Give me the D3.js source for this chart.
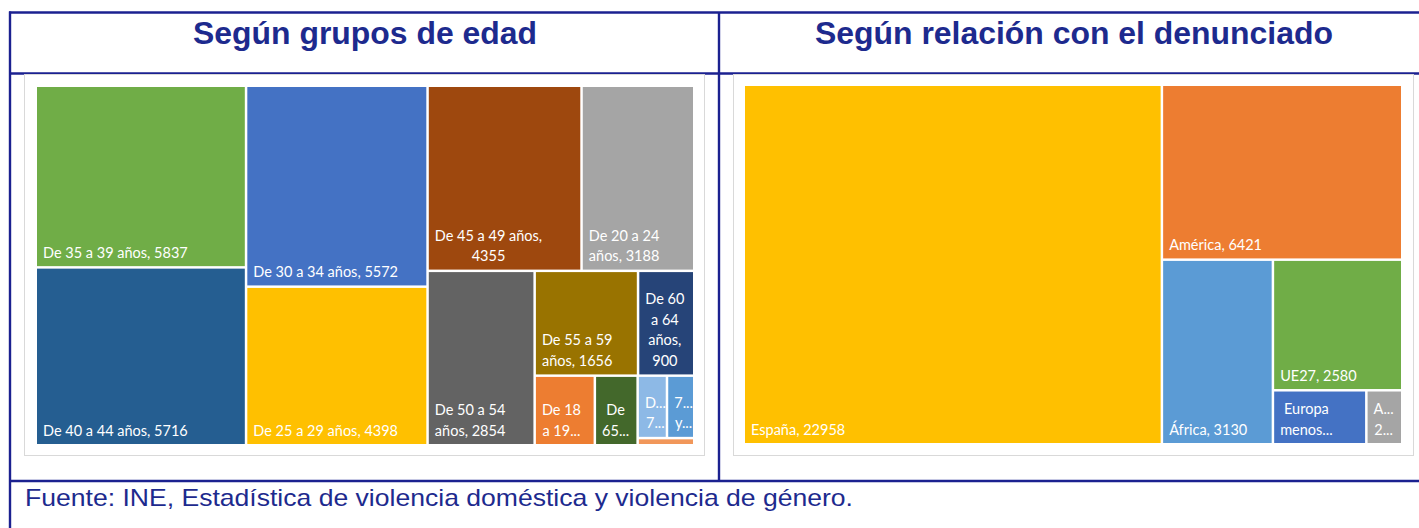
<!DOCTYPE html>
<html><head><meta charset="utf-8">
<script src="https://cdn.jsdelivr.net/npm/d3@7"></script>
<style>html,body{margin:0;padding:0;background:#fff;} svg{display:block;}</style>
</head><body>
<svg id="c" width="1419" height="528"></svg>
<script>
// ---------- data ----------
const tituloEdad = "Según grupos de edad";
const tituloRelacion = "Según relación con el denunciado";
const fuente = "Fuente: INE, Estadística de violencia doméstica y violencia de género.";

const edadCategorias = ["De 35 a 39 años", "De 40 a 44 años", "De 30 a 34 años", "De 25 a 29 años",
  "De 45 a 49 años", "De 20 a 24 años", "De 50 a 54 años", "De 55 a 59 años", "De 60 a 64 años",
  "De 18 a 19 años", "De 65 a 69 años", "De 70 a 74 años", "75 y más años", "Menores de 18 años"];
const edadValores = [5837, 5716, 5572, 4398, 4355, 3188, 2854, 1656, 900, 640, 455, 280, 260, 62];
const edadColores = ["#70AD47", "#255E91", "#4472C4", "#FFC000", "#9E480E", "#A5A5A5", "#636363",
  "#997300", "#264478", "#ED7D31", "#43682B", "#8DB9E6", "#5B9BD5", "#F1975A"];

const relacionCategorias = ["España", "América", "África", "UE27", "Europa menos UE27", "Asia"];
const relacionValores = [22958, 6421, 3130, 2580, 770, 296];
const relacionColores = ["#FFC000", "#ED7D31", "#5B9BD5", "#70AD47", "#4472C4", "#A5A5A5"];

// ---------- setup ----------
const svg = d3.select("#c");
const navy = "#1b2190";
const textNavy = "#1d2a8e";
const labelFont = "Lato, 'Open Sans', sans-serif";
const labelSize = 14.5;
const lineH = 20.5;

svg.append("rect").attr("width", 1419).attr("height", 528).attr("fill", "#fff");

// table lines
const lines = [
  [9, 12.5, 1419, 12.5],
  [9, 73.5, 1419, 73.5],
  [9, 481, 1419, 481],
  [10, 11.5, 10, 528],
  [719, 12, 719, 481]
];
svg.append("g").selectAll("line").data(lines).join("line")
  .attr("x1", d => d[0]).attr("y1", d => d[1]).attr("x2", d => d[2]).attr("y2", d => d[3])
  .attr("stroke", navy).attr("stroke-width", 2.4);

// titles
const titleFont = "'Liberation Sans', Arial, sans-serif";
[[tituloEdad, 365, 344], [tituloRelacion, 1074, 518]].forEach(([t, cx, len]) => {
  svg.append("text").attr("x", cx).attr("y", 44).attr("text-anchor", "middle")
    .attr("font-family", titleFont).attr("font-weight", "bold").attr("font-size", 31)
    .attr("fill", textNavy).attr("textLength", len).attr("lengthAdjust", "spacingAndGlyphs")
    .text(t);
});

svg.append("text").attr("x", 25).attr("y", 506)
  .attr("font-family", titleFont).attr("font-size", 24)
  .attr("fill", textNavy).attr("textLength", 828).attr("lengthAdjust", "spacingAndGlyphs")
  .text(fuente);

// chart panels
[[24, 74], [733, 74]].forEach(([x, y]) => {
  svg.append("rect").attr("x", x + 0.5).attr("y", y + 0.5).attr("width", 680).attr("height", 381)
    .attr("fill", "#fff").attr("stroke", "#d9d9d9").attr("stroke-width", 1);
});

// text measuring
const measurer = svg.append("text").attr("font-family", labelFont).attr("font-size", labelSize)
  .attr("visibility", "hidden");
function measure(s) { measurer.text(s); return measurer.node().getComputedTextLength(); }

function truncChars(word, avail) {
  for (let n = word.length - 1; n >= 1; n--) {
    const s = word.slice(0, n) + "...";
    if (measure(s) <= avail) return s;
  }
  return word[0] + "...";
}

function wrapLabel(text, avail, maxLines) {
  const words = text.split(/\s+/);
  const out = [];
  let i = 0;
  if (maxLines < 1) return out;
  while (i < words.length && out.length < maxLines) {
    const isLast = out.length === maxLines - 1;
    let line = words[i];
    if (measure(line) > avail) { out.push(truncChars(line, avail)); i++; continue; }
    let j = i + 1;
    while (j < words.length && measure(line + " " + words[j]) <= avail) { line += " " + words[j]; j++; }
    if (isLast && j < words.length) {
      let k = j, cand = null;
      while (k > i) {
        cand = words.slice(i, k).join(" ") + "...";
        if (measure(cand) <= avail) break;
        k--;
      }
      out.push(k > i ? cand : truncChars(words[i], avail));
      i = words.length;
      break;
    }
    out.push(line);
    i = j;
  }
  return out;
}

function treemapChart(cats, vals, cols, x, y, w, h) {
  const color = d3.scaleOrdinal(cats, cols);
  const root = d3.hierarchy({ children: cats.map((c, i) => ({ name: c, value: vals[i] })) })
    .sum(d => d.value || 0)
    .sort((a, b) => b.value - a.value);
  d3.treemap().size([w, h]).tile(d3.treemapSquarify.ratio(1.18)).paddingInner(2.5)(root);

  const g = svg.append("g").attr("transform", `translate(${x},${y})`);
  const cell = g.selectAll("g").data(root.leaves()).join("g");
  cell.append("rect")
    .attr("x", d => d.x0).attr("y", d => d.y0)
    .attr("width", d => d.x1 - d.x0).attr("height", d => d.y1 - d.y0)
    .attr("fill", d => color(d.data.name));

  cell.each(function (d) {
    const cw = d.x1 - d.x0, ch = d.y1 - d.y0;
    const padX = 6;
    const avail = cw - 2 * padX;
    const maxLines = Math.floor((ch - 8) / lineH);
    const lbl = wrapLabel(`${d.data.name}, ${d.data.value}`, avail, maxLines);
    if (!lbl.length) return;
    const bw = d3.max(lbl, s => measure(s));
    const cx = d.x0 + padX + bw / 2;
    const lastY = d.y1 - 14;
    d3.select(this).selectAll("text").data(lbl).join("text")
      .attr("x", cx)
      .attr("y", (s, k) => lastY - (lbl.length - 1 - k) * lineH)
      .attr("text-anchor", "middle").attr("dominant-baseline", "central")
      .attr("font-family", labelFont).attr("font-size", labelSize)
      .attr("fill", "#fff")
      .text(s => s);
  });
}

treemapChart(edadCategorias, edadValores, edadColores, 37, 87, 656, 357);
treemapChart(relacionCategorias, relacionValores, relacionColores, 745, 86, 656, 357);
measurer.remove();
</script>
</body></html>
